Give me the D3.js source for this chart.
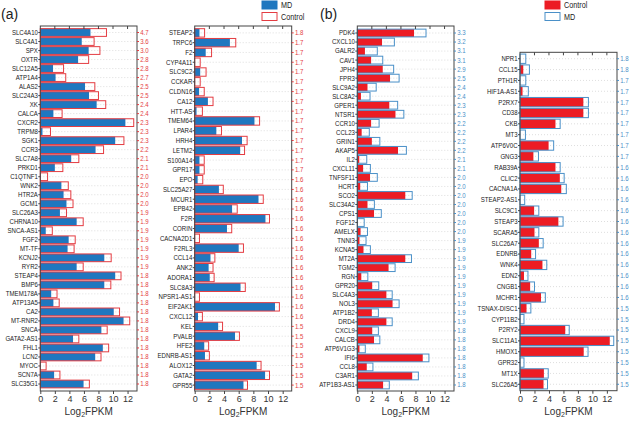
<!DOCTYPE html>
<html>
<head>
<meta charset="utf-8">
<title>MD vs Control</title>
<script src="https://cdn.jsdelivr.net/npm/d3@7"></script>
<style>
  body { margin: 0; background: #fff; }
  text { font-family: Arial, "Liberation Sans", sans-serif; }
  .axis path, .axis line { stroke: #444; }
</style>
</head>
<body>
<script>
// ---- data (Log2 FPKM) ----
var aLeftGenes = ["SLC4A10","SLC4A1","SPX","OXTR","SLC12A5","ATP1A4","ALAS2","SLC24A3","XK","CALCA",
  "CXCR2","TRPM8","SGK1","CCR3","SLC7A8","PRKD1","C1QTNF1","WNK2","HTR2A","GCM1",
  "SLC26A3","CHRNA10","SNCA-AS1","FGF2","MT-TF","KCNJ2","RYR2","STEAP4","BMP6","TMEM178A",
  "ATP13A5","CA2","MT-RNR2","SNCA","GATA2-AS1","FHL1","LCN2","MYOC","SCN7A","SLC35G1"];
var aLeftMD = [6.9,5.7,6.65,5.2,1.75,2.1,6.15,6.7,7.75,1.8,
  11.7,0.3,10.3,7.6,4.25,2.0,0,2.9,3.2,3.6,
  2.7,5.0,0.75,3.9,3.75,8.8,5.0,10.3,8.8,1.5,
  1.8,10.1,11.45,8.4,4.5,8.6,7.55,0,1.9,5.95];
var aLeftControl = [9.1,7.4,8.2,6.65,3.2,3.5,7.5,8.0,9.0,3.0,
  12.85,1.4,11.5,8.7,5.3,3.1,1.0,3.85,4.2,4.5,
  3.6,5.9,1.65,4.8,4.65,9.75,5.9,11.1,9.7,2.3,
  2.6,10.9,12.3,9.2,5.3,9.4,8.35,0.8,2.7,6.75];
var aLeftFold = ["4.7","3.6","3.0","2.8","2.8","2.7","2.5","2.5","2.4","2.4",
  "2.3","2.3","2.3","2.2","2.1","2.1","2.0","2.0","2.0","2.0",
  "1.9","1.9","1.9","1.9","1.9","1.9","1.9","1.8","1.8","1.8",
  "1.8","1.8","1.8","1.8","1.8","1.8","1.8","1.8","1.8","1.8"];

var aRightGenes = ["STEAP2","TRPC6","F2","CYP4A11","SLC9C2","CCKAR","CLDN16","CA12","HTT-AS","TMEM64",
  "LPAR4","HRH4","LETM2","S100A14","GPR17","EPO","SLC25A27","MCUR1","EPB42","F2R",
  "CORIN","CACNA2D1","F2RL3","CCL14","ANK2","ADORA1","SLC8A3","NPSR1-AS1","EIF2AK1","CXCL12",
  "KEL","PVALB","HFE2","EDNRB-AS1","ALOX12","GATA2","GPR55"];
var aRightMD = [0.65,4.8,1.5,0,0.75,0,0.6,1.8,0.25,8.15,
  2.95,6.45,6.2,0.65,0.65,0.4,3.3,8.7,5.1,9.65,
  4.4,0,6.0,2.15,1.9,2.05,6.25,0,10.95,0.45,
  3.2,5.5,1.3,1.4,8.45,9.6,6.65];
var aRightControl = [1.35,5.6,2.3,0.75,1.55,0.75,1.3,2.5,1.05,8.85,
  3.65,7.15,6.8,1.3,1.3,1.1,3.9,9.35,5.8,10.2,
  5.05,0.65,6.65,2.75,2.5,2.65,6.9,0.65,11.55,1.05,
  3.8,6.1,1.9,2.0,9.05,10.2,7.2];
var aRightFold = ["1.8","1.7","1.7","1.7","1.7","1.7","1.7","1.7","1.7","1.7",
  "1.7","1.7","1.7","1.7","1.7","1.6","1.6","1.6","1.6","1.6",
  "1.6","1.6","1.6","1.6","1.6","1.6","1.6","1.6","1.6","1.6",
  "1.5","1.5","1.5","1.5","1.5","1.5","1.5"];

var bLeftGenes = ["PDK4","CXCL10","GALR2","CAV1","JPH4","FPR3","SLC9A2","SLC8A2","GPER1","NTSR1",
  "CCR10","CCL23","GRIN1","AKAP5","IL2","CXCL11","TNFSF11","HCRT","SCO2","SLC34A2",
  "CPS1","FGF12","AMELX","TNNI3","KCNA5","MT2A","TGM2","RGN","GPR20","SLC4A3",
  "NOL3","ATP1B2","DRD4","CXCL9","CALCB","ATP6V1G3","IFI6","CCL8","C3AR1","ATP1B3-AS1"];
var bLeftControl = [7.8,3.4,1.05,1.9,3.5,4.5,1.4,0.5,4.4,5.25,
  1.9,0.6,2.0,5.6,0.27,0.8,1.75,0.4,6.6,1.4,
  2.3,0,0.45,0.3,0.85,6.6,4.3,0.55,2.05,4.0,
  4.85,2.0,4.0,2.05,2.3,0.3,9.0,1.3,7.55,3.55];
var bLeftMD = [9.45,5.1,2.75,3.5,5.0,5.75,2.6,1.75,5.55,6.4,
  3.0,1.65,3.1,6.75,1.3,1.8,2.75,1.4,7.55,2.35,
  3.3,0.95,1.4,1.2,1.8,7.45,5.2,1.45,2.95,4.8,
  5.75,2.9,4.8,2.9,3.1,1.1,9.85,2.15,8.4,4.4];
var bLeftFold = ["3.3","3.2","3.1","3.1","2.9","2.5","2.4","2.4","2.3","2.3",
  "2.2","2.2","2.2","2.2","2.1","2.1","2.0","2.0","2.0","2.0",
  "2.0","2.0","2.0","1.9","1.9","1.9","1.9","1.9","1.9","1.9",
  "1.9","1.9","1.9","1.8","1.8","1.8","1.8","1.8","1.8","1.8"];

var bRightGenes = ["NPR1","CCL15","PTH1R","HIF1A-AS1","P2RX7","CD38","CKB","MT3","ATP6V0C","GNG3",
  "RAB39A","CLIC2","CACNA1A","STEAP2-AS1","SLC9C1","STEAP3","SCARA5","SLC26A7","EDNRB","WNK4",
  "EDN2","CNGB1","MCHR1","TSNAX-DISC1","CYP11B2","P2RY2","SLC11A1","HMOX1","GPR32","MT1X","SLC26A5"];
var bRightControl = [0,0.45,0,0.35,8.75,8.75,4.9,0,3.95,1.85,
  4.9,5.5,5.7,0,1.95,5.3,2.0,2.6,1.55,3.1,
  0.55,1.4,2.9,0.9,0,6.25,12.4,8.8,0,3.3,3.25];
var bRightMD = [0.8,1.3,0.8,1.15,9.45,9.45,5.55,0.75,4.65,2.55,
  5.55,6.1,6.4,0.65,2.6,5.95,2.6,3.2,2.15,3.7,
  1.1,2.0,3.5,1.5,0.55,6.8,12.95,9.4,0.55,3.9,3.8];
var bRightFold = ["1.8","1.8","1.7","1.7","1.7","1.7","1.7","1.7","1.7","1.7",
  "1.6","1.6","1.6","1.6","1.6","1.6","1.6","1.6","1.6","1.6",
  "1.6","1.6","1.6","1.5","1.5","1.5","1.5","1.5","1.5","1.5","1.5"];

var xTicks = [0,2,4,6,8,10,12];

var blue = "#1f77bf", red = "#ec1c24";
var redLine = "#e43c42", blueLine = "#4a90c8";
var squeeze = "scale(0.8,1)"; // the figure uses a condensed face

var w = 631, h = 421;
var svg = d3.select("body").append("svg")
  .attr("width", w)
  .attr("height", h);

function drawPanel(p) {
  var x = d3.scaleLinear()
    .domain([0, p.xMax])
    .range([p.left, p.right]);
  var y = d3.scaleBand()
    .domain(p.genes)
    .range([p.bandTop, p.bandBottom])
    .paddingInner(0.14)
    .paddingOuter(0.07);
  var g = svg.append("g");

  // dotted row guides
  g.selectAll(".grid")
    .data(p.genes)
    .enter()
    .append("line")
    .attr("x1", p.left)
    .attr("x2", p.right)
    .attr("y1", function(d){ return y(d) + y.bandwidth()/2; })
    .attr("y2", function(d){ return y(d) + y.bandwidth()/2; })
    .attr("stroke", "#c8c8c8")
    .attr("stroke-width", 0.6)
    .attr("stroke-dasharray", "1,2");

  // filled bars
  g.selectAll(".fillbar")
    .data(p.genes)
    .enter()
    .append("rect")
    .attr("x", x(0))
    .attr("y", function(d){ return y(d); })
    .attr("width", function(d, i){ return x(p.fillVals[i]) - x(0); })
    .attr("height", y.bandwidth())
    .attr("fill", p.fillColor);

  // outlined bars
  g.selectAll(".linebar")
    .data(p.genes)
    .enter()
    .append("rect")
    .attr("x", x(0))
    .attr("y", function(d){ return y(d); })
    .attr("width", function(d, i){ return x(p.lineVals[i]) - x(0); })
    .attr("height", y.bandwidth())
    .attr("fill", "none")
    .attr("stroke", p.lineColor)
    .attr("stroke-width", 1);

  // frame
  g.append("rect")
    .attr("x", p.left)
    .attr("y", p.top)
    .attr("width", p.right - p.left)
    .attr("height", p.bottom - p.top)
    .attr("fill", "none")
    .attr("stroke", "#444")
    .attr("stroke-width", 1);

  // top ticks
  g.selectAll(".toptick")
    .data(xTicks.slice(1))
    .enter()
    .append("line")
    .attr("x1", function(d){ return x(d); })
    .attr("x2", function(d){ return x(d); })
    .attr("y1", p.top)
    .attr("y2", p.top + 3)
    .attr("stroke", "#444");

  var xAxis = d3.axisBottom(x).tickValues(xTicks).tickSize(3).tickPadding(2);
  var ax = g.append("g")
    .attr("class", "axis")
    .attr("transform", "translate(0," + p.bottom + ")")
    .call(xAxis);
  ax.select(".domain").remove();
  ax.selectAll("text").attr("font-size", "9px").attr("fill", "#333");

  var yAxis = d3.axisLeft(y).tickSize(2).tickPadding(1);
  var ay = g.append("g")
    .attr("class", "axis")
    .attr("transform", "translate(" + p.left + ",0)")
    .call(yAxis);
  ay.select(".domain").remove();
  ay.selectAll("text").attr("font-size", "7.6px").attr("fill", "#222")
    .attr("transform", squeeze);

  var rAxis = d3.axisRight(y).tickSize(2).tickPadding(2)
    .tickFormat(function(d, i){ return p.fold[i]; });
  var ar = g.append("g")
    .attr("transform", "translate(" + p.right + ",0)")
    .call(rAxis);
  ar.select(".domain").remove();
  ar.selectAll("line").attr("stroke", p.foldColor);
  ar.selectAll("text").attr("font-size", "7.6px").attr("fill", p.foldColor)
    .attr("transform", squeeze);

  // axis title
  var t = g.append("text")
    .attr("x", (p.left + p.right) / 2)
    .attr("y", p.bottom + 24)
    .attr("text-anchor", "middle")
    .attr("font-size", "10px")
    .attr("fill", "#333");
  t.append("tspan").text("Log");
  t.append("tspan").attr("font-size", "7px").attr("dy", 2).text("2");
  t.append("tspan").attr("dy", -2).text("FPKM");
}

drawPanel({genes: aLeftGenes, fillVals: aLeftMD, lineVals: aLeftControl, fold: aLeftFold,
  left: 40.3, right: 137, xMax: 13.3, top: 26, bottom: 391, bandTop: 28, bandBottom: 388.5,
  fillColor: blue, lineColor: redLine, foldColor: redLine});
drawPanel({genes: aRightGenes, fillVals: aRightMD, lineVals: aRightControl, fold: aRightFold,
  left: 194.7, right: 291.7, xMax: 13.23, top: 26, bottom: 391, bandTop: 28, bandBottom: 390,
  fillColor: blue, lineColor: redLine, foldColor: redLine});
drawPanel({genes: bLeftGenes, fillVals: bLeftControl, lineVals: bLeftMD, fold: bLeftFold,
  left: 357.3, right: 454, xMax: 13.3, top: 26, bottom: 391, bandTop: 28.5, bandBottom: 389.5,
  fillColor: red, lineColor: blueLine, foldColor: blueLine});
drawPanel({genes: bRightGenes, fillVals: bRightControl, lineVals: bRightMD, fold: bRightFold,
  left: 520, right: 617, xMax: 13.4, top: 52.3, bottom: 390.7, bandTop: 53.3, bandBottom: 389.7,
  fillColor: red, lineColor: blueLine, foldColor: blueLine});

// panel letters
svg.append("text").attr("x", 1).attr("y", 19).attr("font-size", "14px")
  .attr("fill", "#222").text("(a)");
svg.append("text").attr("x", 320).attr("y", 19).attr("font-size", "14px")
  .attr("fill", "#222").text("(b)");

// legends
function legend(x0, items) {
  var lg = svg.append("g");
  items.forEach(function(it, i) {
    lg.append("rect")
      .attr("x", x0).attr("y", 1 + i * 11.5)
      .attr("width", 15).attr("height", 8)
      .attr("fill", it.fill)
      .attr("stroke", it.stroke)
      .attr("stroke-width", 1);
    lg.append("text")
      .attr("x", (x0 + 19) / 0.85).attr("y", 8.5 + i * 11.5)
      .attr("transform", "scale(0.85,1)")
      .attr("font-size", "8.5px").attr("fill", "#222")
      .text(it.name);
  });
}
legend(262, [{name: "MD", fill: blue, stroke: blue}, {name: "Control", fill: "#fff", stroke: redLine}]);
legend(545, [{name: "Control", fill: red, stroke: red}, {name: "MD", fill: "#fff", stroke: blueLine}]);
</script>
</body>
</html>
